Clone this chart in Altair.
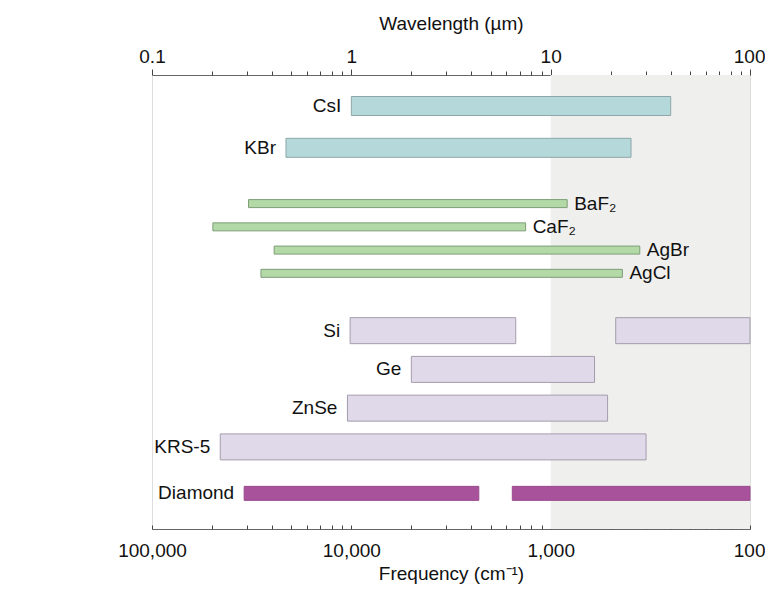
import altair as alt
import pandas as pd

# ---- data (wavelength in µm) ----
names = ["CsI", "KBr", "BaF₂", "CaF₂", "AgBr", "AgCl", "Si", "Ge", "ZnSe", "KRS-5", "Diamond"]
groups = ["halide", "halide", "thin", "thin", "thin", "thin", "semi", "semi", "semi", "semi", "diamond"]
rows = [1.0, 2.35, 4.15, 4.9, 5.65, 6.4, 8.25, 9.5, 10.75, 12.0, 13.5]
starts = [1.0, 0.47, 0.305, 0.202, 0.41, 0.352, 0.986, 2.0, 0.956, 0.22, 0.29]
ends = [40.0, 25.3, 12.1, 7.49, 28.0, 22.9, 6.68, 16.6, 19.3, 30.1, 4.36]
label_side = ["left", "left", "right", "right", "right", "right", "left", "left", "left", "left", "left"]

# second transmission windows
extra_names = ["Si", "Diamond"]
extra_starts = [21.2, 6.42]
extra_ends = [100.0, 100.0]

far_ir = [10.0, 100.0]  # shaded far-IR region

decades = [0.1, 1, 10, 100]
minors = [m * d for d in [0.1, 1, 10] for m in [2, 3, 4, 5, 6, 7, 8, 9]]

df = pd.DataFrame({"name": names, "group": groups, "row": rows,
                   "start": starts, "end": ends, "side": label_side})
row_of = dict(zip(names, rows))
grp_of = dict(zip(names, groups))
extra = pd.DataFrame({"name": extra_names, "start": extra_starts, "end": extra_ends,
                      "row": [row_of[n] for n in extra_names],
                      "group": [grp_of[n] for n in extra_names]})
segs = pd.concat([df[["name", "group", "row", "start", "end"]], extra], ignore_index=True)
bg = pd.DataFrame({"a": [far_ir[0]], "b": [far_ir[1]]})

FONT = "Liberation Sans"
xscale = alt.Scale(type="log", domain=[0.1, 100], nice=False, padding=0)
yscale = alt.Scale(domain=[0, 14.65], reverse=True, nice=False, zero=False, padding=0)
Y = alt.Y("row:Q", scale=yscale, axis=None)

last_align = {"condition": {"test": "datum.value >= 100", "value": "right"}, "value": "center"}
last_offset = {"condition": {"test": "datum.value >= 100", "value": 15}, "value": 0}

top_major = alt.Axis(orient="top", values=decades, labelExpr="format(datum.value, '~g')",
                     tickSize=6, tickColor="#444", tickWidth=1, domainColor="#666",
                     labelFontSize=19, labelFlush=False, labelAlign=last_align,
                     labelOffset=last_offset,
                     labelFont=FONT, labelColor="#111", labelPadding=3, grid=False,
                     title="Wavelength  (µm)", titleFont=FONT, titleFontSize=19,
                     titleFontWeight="normal", titleColor="#111", titlePadding=14)
top_minor = alt.Axis(orient="top", values=minors, labels=False, tickSize=4, tickColor="#444",
                     tickWidth=1, domain=False, grid=False, title=None)
bottom_major = alt.Axis(orient="bottom", values=decades,
                        labelExpr="format(10000/datum.value, ',.0f')",
                        ticks=False, tickSize=0, domainColor="#666", labelFontSize=19,
                        labelFlush=False, labelAlign=last_align, labelOffset=last_offset,
                        labelFont=FONT, labelColor="#111", labelPadding=12, grid=False,
                        title="Frequency (cm⁻¹)", titleFont=FONT, titleFontSize=19,
                        titleFontWeight="normal", titleColor="#111", titlePadding=4)
bottom_minor = alt.Axis(orient="bottom", values=decades + minors, labels=False, tickSize=4,
                        tickColor="#444", tickWidth=1, domain=False, grid=False, offset=-4,
                        title=None)

shade = alt.Chart(bg).mark_rect(color="#efefee").encode(
    x=alt.X("a:Q", scale=xscale, axis=top_major), x2="b:Q",
    y=alt.value(0), y2=alt.value(454))


def bars(group, size, fill, stroke, axis):
    return alt.Chart(segs).transform_filter(alt.datum.group == group).mark_bar(
        size=size, fill=fill, stroke=stroke, strokeWidth=1).encode(
        x=alt.X("start:Q", scale=xscale, axis=axis), x2="end:Q", y=Y)


halide = bars("halide", 19, "#b5d8da", "#8ea6a8", top_minor)
thin = bars("thin", 8, "#b3d9a7", "#7e9d77", bottom_major)
semi = bars("semi", 26, "#e0d9ea", "#a49cab", bottom_minor)
diamond = bars("diamond", 14, "#a8529b", "#9a4a8e", None)

left_lbl = alt.Chart(df).transform_filter(alt.datum.side == "left").mark_text(
    align="right", baseline="middle", dx=-10, font=FONT, fontSize=19, color="#111").encode(
    x=alt.X("start:Q", scale=xscale, axis=None), y=Y, text="name:N")
right_lbl = alt.Chart(df).transform_filter(alt.datum.side == "right").mark_text(
    align="left", baseline="middle", dx=7, font=FONT, fontSize=19, color="#111").encode(
    x=alt.X("end:Q", scale=xscale, axis=None), y=Y, text="name:N")

chart = alt.layer(shade, halide, thin, semi, diamond, left_lbl, right_lbl).resolve_axis(
    x="independent").properties(
    width=598, height=454,
    autosize=alt.AutoSizeParams(type="none"),
    padding={"left": 144, "top": 67, "right": 15, "bottom": 58},
).configure_view(stroke="#444", strokeWidth=1).configure(background="white")

chart.save("out.html", embed_options={"renderer": "svg", "actions": False})
